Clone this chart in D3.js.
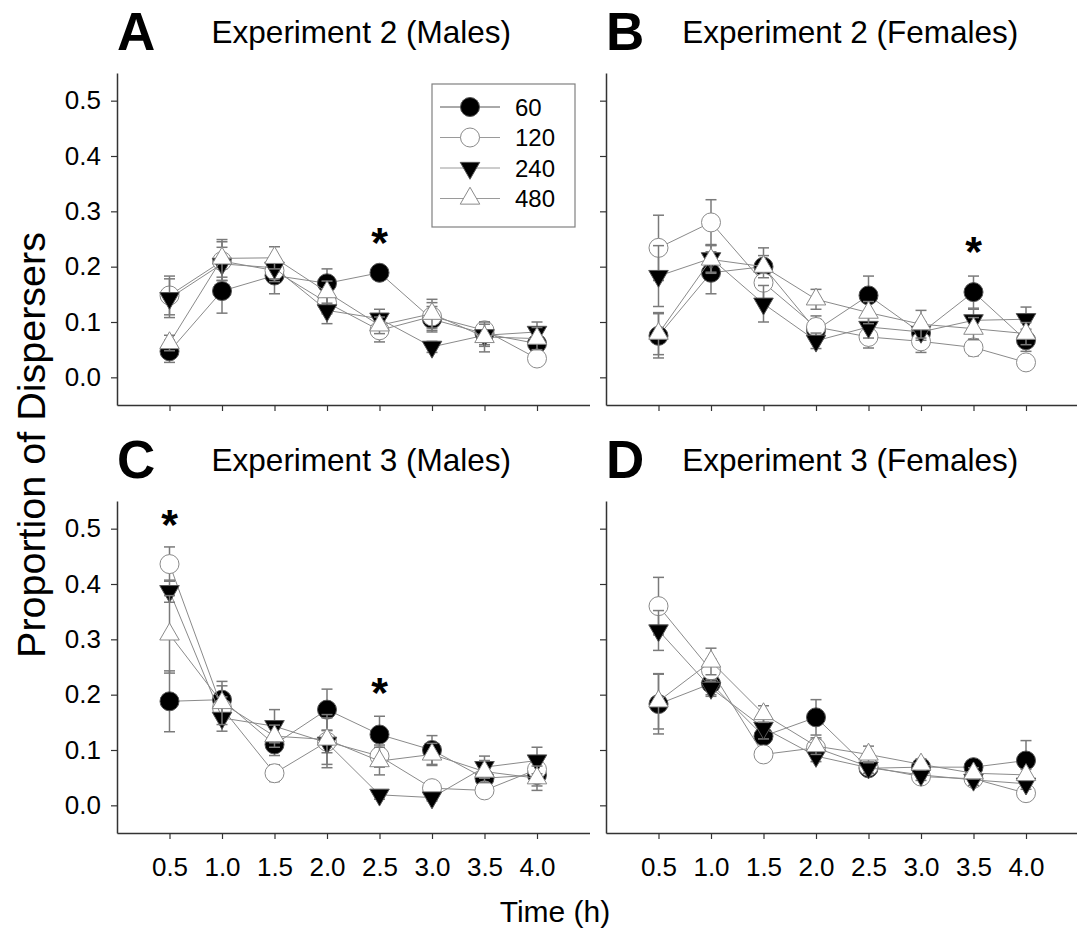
<!DOCTYPE html>
<html>
<head>
<meta charset="utf-8">
<script src="https://cdn.jsdelivr.net/npm/d3@7"></script>
<style>
  html, body { margin: 0; padding: 0; background: #fff; }
  svg { display: block; font-family: "Liberation Sans", Arial, sans-serif; }
</style>
</head>
<body>
<svg id="chart" width="1077" height="945"></svg>
<script>
// Sampling times (h)
const times = [0.5, 1.0, 1.5, 2.0, 2.5, 3.0, 3.5, 4.0];
const yTicks = [0.0, 0.1, 0.2, 0.3, 0.4, 0.5];
const groups = ["60", "120", "240", "480"];

// Experiment 2, males: means and standard errors
const e2m60  = [0.047, 0.156, 0.184, 0.170, 0.189, 0.105, 0.079, 0.061];
const e2m120 = [0.148, 0.210, 0.193, 0.135, 0.085, 0.110, 0.085, 0.034];
const e2m240 = [0.143, 0.205, 0.198, 0.121, 0.106, 0.055, 0.076, 0.082];
const e2m480 = [0.062, 0.215, 0.216, 0.154, 0.094, 0.115, 0.073, 0.070];
const e2m60se  = [0.020, 0.040, 0.033, 0.026, 0.010, 0.023, 0.020, 0.020];
const e2m120se = [0.035, 0.035, 0.020, 0.020, 0.021, 0.025, 0.015, 0.008];
const e2m240se = [0.035, 0.030, 0.020, 0.024, 0.017, 0.010, 0.020, 0.018];
const e2m480se = [0.014, 0.034, 0.020, 0.020, 0.015, 0.026, 0.027, 0.020];

// Experiment 2, females
const e2f60  = [0.075, 0.189, 0.200, 0.085, 0.148, 0.080, 0.154, 0.067];
const e2f120 = [0.234, 0.280, 0.171, 0.091, 0.073, 0.065, 0.054, 0.027];
const e2f240 = [0.183, 0.215, 0.133, 0.066, 0.091, 0.082, 0.103, 0.105];
const e2f480 = [0.079, 0.213, 0.200, 0.141, 0.117, 0.096, 0.088, 0.079];
const e2f60se  = [0.040, 0.038, 0.034, 0.020, 0.035, 0.020, 0.029, 0.020];
const e2f120se = [0.059, 0.041, 0.030, 0.020, 0.020, 0.020, 0.015, 0.008];
const e2f240se = [0.055, 0.025, 0.033, 0.014, 0.020, 0.015, 0.020, 0.022];
const e2f480se = [0.038, 0.025, 0.020, 0.018, 0.020, 0.025, 0.020, 0.020];

// Experiment 3, males
const e3m60  = [0.188, 0.191, 0.110, 0.173, 0.128, 0.100, 0.049, 0.055];
const e3m120 = [0.436, 0.176, 0.058, 0.115, 0.089, 0.031, 0.027, 0.065];
const e3m240 = [0.387, 0.158, 0.143, 0.113, 0.019, 0.014, 0.069, 0.081];
const e3m480 = [0.309, 0.185, 0.125, 0.119, 0.080, 0.092, 0.061, 0.049];
const e3m60se  = [0.055, 0.025, 0.020, 0.037, 0.033, 0.026, 0.015, 0.020];
const e3m120se = [0.031, 0.020, 0.015, 0.020, 0.020, 0.008, 0.008, 0.020];
const e3m240se = [0.020, 0.024, 0.030, 0.045, 0.008, 0.006, 0.020, 0.024];
const e3m480se = [0.070, 0.039, 0.020, 0.045, 0.025, 0.020, 0.020, 0.022];

// Experiment 3, females
const e3f60  = [0.183, 0.220, 0.125, 0.159, 0.067, 0.069, 0.069, 0.081];
const e3f120 = [0.360, 0.244, 0.092, 0.104, 0.070, 0.052, 0.048, 0.022];
const e3f240 = [0.316, 0.212, 0.140, 0.089, 0.068, 0.055, 0.046, 0.039];
const e3f480 = [0.188, 0.260, 0.165, 0.107, 0.092, 0.074, 0.058, 0.055];
const e3f60se  = [0.054, 0.020, 0.020, 0.032, 0.010, 0.010, 0.010, 0.036];
const e3f120se = [0.052, 0.020, 0.010, 0.015, 0.010, 0.010, 0.010, 0.010];
const e3f240se = [0.036, 0.015, 0.020, 0.010, 0.010, 0.010, 0.010, 0.010];
const e3f480se = [0.050, 0.024, 0.015, 0.015, 0.015, 0.010, 0.010, 0.010];

// Significance markers: [time, height]
const sigA = [[2.5, 0.262]];
const sigB = [[3.5, 0.247]];
const sigC = [[0.5, 0.527], [2.5, 0.222]];
const sigD = [];

const panels = [
  { letter: "A", title: "Experiment 2 (Males)",   left: 117, top: 73,  means: [e2m60, e2m120, e2m240, e2m480], ses: [e2m60se, e2m120se, e2m240se, e2m480se], sig: sigA, yLabels: true,  xLabels: false, legend: true },
  { letter: "B", title: "Experiment 2 (Females)", left: 606, top: 73,  means: [e2f60, e2f120, e2f240, e2f480], ses: [e2f60se, e2f120se, e2f240se, e2f480se], sig: sigB, yLabels: false, xLabels: false, legend: false },
  { letter: "C", title: "Experiment 3 (Males)",   left: 117, top: 501, means: [e3m60, e3m120, e3m240, e3m480], ses: [e3m60se, e3m120se, e3m240se, e3m480se], sig: sigC, yLabels: true,  xLabels: true,  legend: false },
  { letter: "D", title: "Experiment 3 (Females)", left: 606, top: 501, means: [e3f60, e3f120, e3f240, e3f480], ses: [e3f60se, e3f120se, e3f240se, e3f480se], sig: sigD, yLabels: false, xLabels: true,  legend: false }
];

const plotW = 472.5, plotH = 332;
const lineGray = "#8a8a8a", barGray = "#7a7a7a", axisCol = "#333";
const triArea = 165, circR = 9.5;

const svg = d3.select("#chart");

// Marker styles per group
const markerStyle = {
  "60":  { shape: "circle", fill: "#000", stroke: "#555" },
  "120": { shape: "circle", fill: "#fff", stroke: "#8a8a8a" },
  "240": { shape: "down",   fill: "#000", stroke: "#555" },
  "480": { shape: "up",     fill: "#fff", stroke: "#8a8a8a" }
};

function drawMarker(g, key, cx, cy) {
  const st = markerStyle[key];
  if (st.shape === "circle") {
    g.append("circle").attr("cx", cx).attr("cy", cy).attr("r", circR)
      .attr("fill", st.fill).attr("stroke", st.stroke).attr("stroke-width", 1);
  } else {
    const rot = st.shape === "down" ? 180 : 0;
    g.append("path").attr("d", d3.symbol(d3.symbolTriangle, triArea)())
      .attr("transform", `translate(${cx},${cy}) rotate(${rot})`)
      .attr("fill", st.fill).attr("stroke", st.stroke).attr("stroke-width", 1);
  }
}

panels.forEach(p => {
  const x = d3.scaleLinear().domain([0, 4.5]).range([p.left, p.left + plotW]);
  const y = d3.scaleLinear().domain([-0.05, 0.55]).range([p.top + plotH, p.top]);
  const g = svg.append("g");

  // Axes
  const yAxis = d3.axisLeft(y).tickValues(yTicks).tickSize(6).tickSizeOuter(0)
    .tickPadding(10).tickFormat(p.yLabels ? d3.format(".1f") : () => "");
  const ya = g.append("g").attr("transform", `translate(${p.left},0)`).call(yAxis);
  const xAxis = d3.axisBottom(x).tickValues(times).tickSize(6).tickSizeOuter(0)
    .tickPadding(19).tickFormat(p.xLabels ? d3.format(".1f") : () => "");
  const xa = g.append("g").attr("transform", `translate(0,${p.top + plotH})`).call(xAxis);
  [ya, xa].forEach(a => {
    a.select(".domain").attr("stroke", axisCol).attr("stroke-width", 1.5);
    a.selectAll(".tick line").attr("stroke", axisCol).attr("stroke-width", 1.2);
    a.selectAll(".tick text").attr("fill", "#000").style("font-size", "26px")
      .style("font-family", "'Liberation Sans', Arial, sans-serif");
  });

  // Panel letter and title
  svg.append("text").attr("x", p.left).attr("y", p.top - 23)
    .style("font-size", "53px").style("font-weight", "bold").text(p.letter);
  svg.append("text").attr("x", p.left + plotW / 2 + 8).attr("y", p.top - 30)
    .attr("text-anchor", "middle").style("font-size", "31.5px").text(p.title);

  // Series: connecting line, error bars, markers
  groups.forEach((key, i) => {
    const vals = p.means[i], se = p.ses[i];
    const pts = times.map((t, j) => ({ t, v: vals[j], e: se[j] }));
    const sg = g.append("g");
    sg.append("path").datum(pts)
      .attr("d", d3.line().x(d => x(d.t)).y(d => y(d.v)))
      .attr("fill", "none").attr("stroke", lineGray).attr("stroke-width", 1);
    pts.forEach(d => {
      const cx = x(d.t), y1 = y(d.v + d.e), y2 = y(d.v - d.e);
      sg.append("line").attr("x1", cx).attr("x2", cx).attr("y1", y1).attr("y2", y2)
        .attr("stroke", barGray).attr("stroke-width", 1.5);
      [y1, y2].forEach(yy => sg.append("line").attr("x1", cx - 5.5).attr("x2", cx + 5.5)
        .attr("y1", yy).attr("y2", yy).attr("stroke", barGray).attr("stroke-width", 1.5));
    });
    pts.forEach(d => drawMarker(sg, key, x(d.t), y(d.v)));
  });

  // Significance asterisks
  p.sig.forEach(([t, v]) => {
    svg.append("text").attr("x", x(t)).attr("y", y(v) + 25).attr("text-anchor", "middle")
      .style("font-size", "43px").style("font-weight", "bold").text("*");
  });

  // Legend
  if (p.legend) {
    const lg = svg.append("g");
    lg.append("rect").attr("x", 432).attr("y", 84).attr("width", 143).attr("height", 143)
      .attr("fill", "#fff").attr("stroke", "#808080").attr("stroke-width", 1.2);
    groups.forEach((key, i) => {
      const ry = 107 + i * 30.5;
      lg.append("line").attr("x1", 440).attr("x2", 500).attr("y1", ry).attr("y2", ry)
        .attr("stroke", i === 0 ? "#555" : "#9a9a9a").attr("stroke-width", 1);
      drawMarker(lg, key, 470, ry);
      lg.append("text").attr("x", 515).attr("y", ry + 8.5).style("font-size", "24px").text(key);
    });
  }
});

// Shared axis titles
svg.append("text").attr("transform", "translate(45,445) rotate(-90)").attr("text-anchor", "middle")
  .style("font-size", "39.5px").text("Proportion of Dispersers");
svg.append("text").attr("x", 555).attr("y", 922).attr("text-anchor", "middle")
  .style("font-size", "30px").text("Time (h)");
</script>
</body>
</html>
